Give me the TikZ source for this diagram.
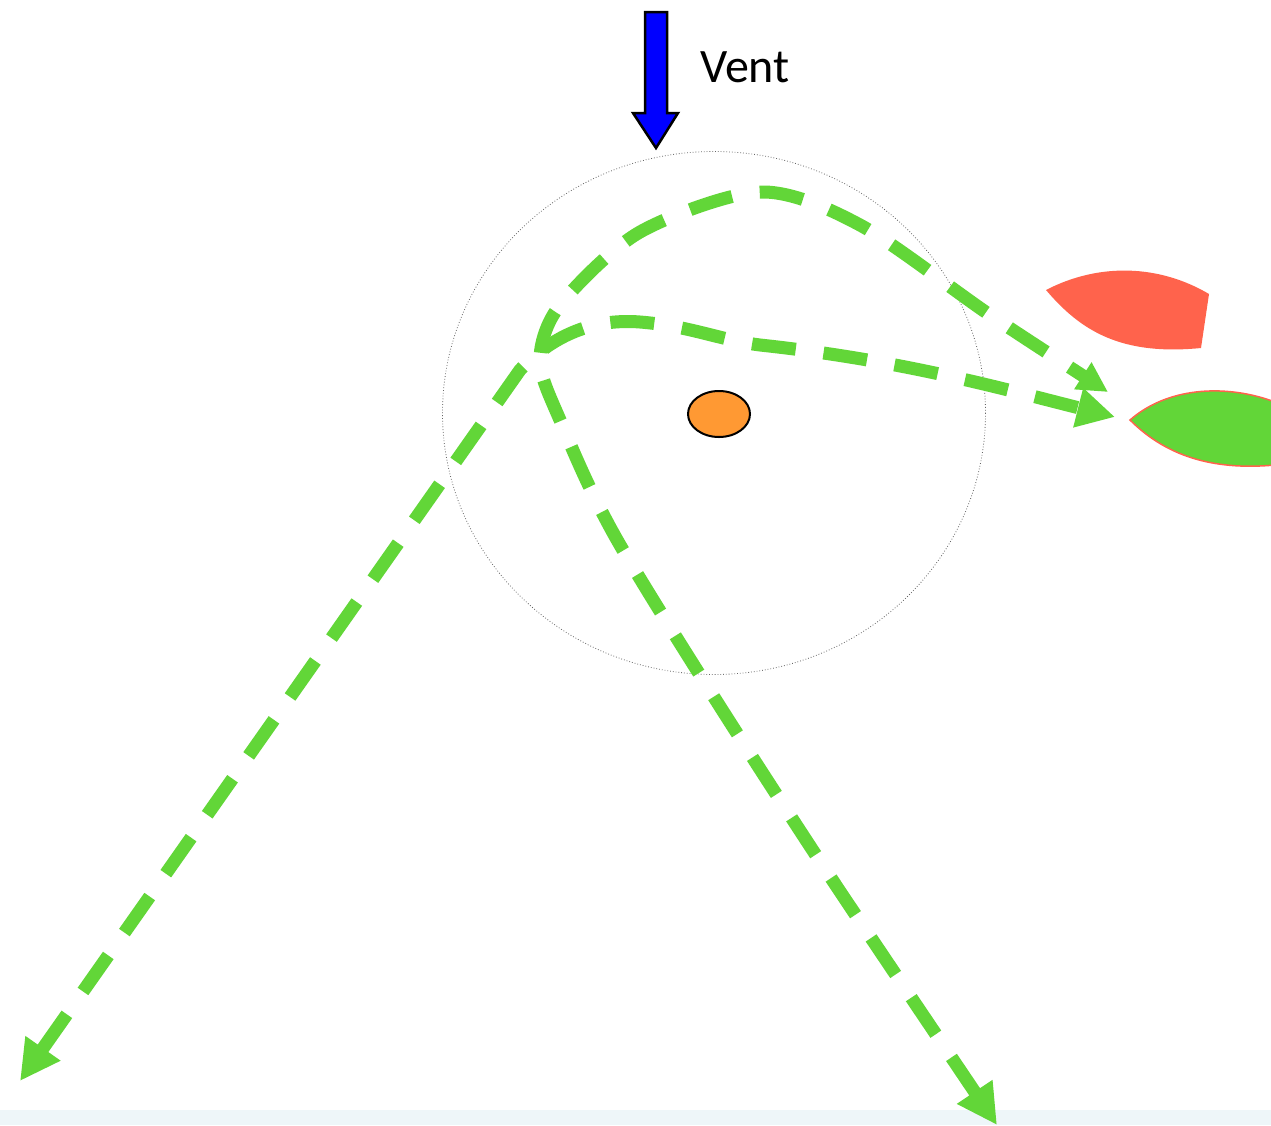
\documentclass[tikz,border=0pt]{standalone}
\usepackage{fontspec}
\setmainfont{Carlito}
\usetikzlibrary{arrows.meta,shapes.geometric}
\definecolor{lgreen}{RGB}{98,214,56}
\definecolor{boatred}{RGB}{255,99,76}
\definecolor{stripblue}{RGB}{238,246,249}
\definecolor{dotorange}{RGB}{255,153,51}
\tikzset{
  route/.style={draw=lgreen, line width=13pt, dash pattern=on 44pt off 28pt},
}
\begin{document}
\begin{tikzpicture}[x=1pt,y=-1pt]
\useasboundingbox (0,0) rectangle (1271,1125);
\fill[white] (0,0) rectangle (1271,1125);
\fill[stripblue] (0,1110) rectangle (1271,1125);
% zone circle
\draw[black!60, line width=0.8pt, dotted] (714,413) ellipse [x radius=271.5, y radius=261.5];
% mark
\node[draw=black, line width=2pt, fill=dotorange, ellipse, minimum width=62pt, minimum height=46pt, inner sep=0pt] (mark) at (719,414) {};
% wind arrow
\filldraw[fill=blue, draw=black, line width=2.5pt] (645,12) -- (667,12) -- (667,113) -- (678,113) -- (656,148) -- (633,113) -- (645,113) -- cycle;
\node[anchor=base west, font=\fontsize{48}{56}\selectfont, inner sep=0pt] (vent) at (700,82) {Vent};
% boats
\fill[boatred] (1046,290) .. controls (1100,262) and (1160,265) .. (1209,294) -- (1201,348) .. controls (1120,356) and (1080,330) .. (1046,290) -- cycle;
\filldraw[fill=lgreen, draw=boatred, line width=1.5pt] (1130,420) .. controls (1170,385) and (1230,385) .. (1275,402) -- (1275,465) .. controls (1220,470) and (1170,460) .. (1130,420) -- cycle;
% routes
\draw[route, {Triangle[length=40pt,width=40pt]}-{Triangle[length=38pt,width=38pt]}]
  (20,1081) -- (520,370) .. controls (550,338) and (590,318) .. (640,322) .. controls (690,326) and (720,340) .. (760,345) .. controls (900,360) and (1000,388) .. (1115,417);
\draw[route, {Triangle[length=40pt,width=40pt]}-{Triangle[length=30pt,width=30pt]}]
  plot[smooth] coordinates {(997,1125) (780,800) (620,545) (560,420) (540,360) (560,305) (640,232) (760,192) (860,225) (990,315) (1108,392)};
\end{tikzpicture}
\end{document}
